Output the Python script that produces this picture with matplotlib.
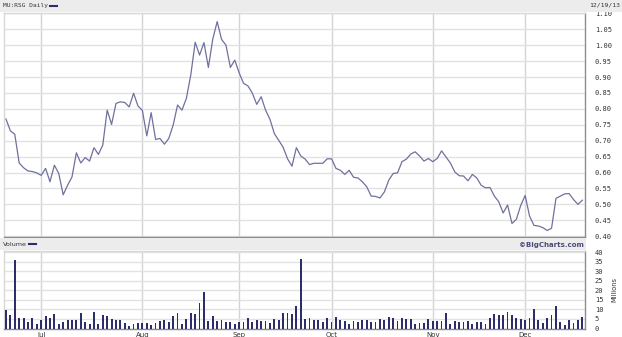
import numpy as np
import pandas as pd
import matplotlib
matplotlib.use("Agg")
import matplotlib.pyplot as plt
from matplotlib.patches import Rectangle

# trading days (all weekdays) 6/19/13 .. 12/19/13
dates = pd.bdate_range("2013-06-19", "2013-12-19")

price = [
    0.768, 0.731, 0.720, 0.630, 0.615, 0.605, 0.603, 0.599, 0.591, 0.613,
    0.571, 0.623, 0.597, 0.530, 0.560, 0.586, 0.662, 0.630, 0.647, 0.636,
    0.678, 0.657, 0.686, 0.796, 0.751, 0.817, 0.822, 0.820, 0.806, 0.849,
    0.809, 0.795, 0.715, 0.788, 0.704, 0.707, 0.689, 0.707, 0.749, 0.812,
    0.796, 0.833, 0.906, 1.009, 0.969, 1.008, 0.930, 1.019, 1.074, 1.018,
    1.000, 0.930, 0.953, 0.913, 0.880, 0.872, 0.849, 0.814, 0.838, 0.796,
    0.767, 0.722, 0.701, 0.679, 0.643, 0.620, 0.678, 0.652, 0.642, 0.625,
    0.629, 0.629, 0.629, 0.643, 0.643, 0.613, 0.607, 0.594, 0.607, 0.585,
    0.583, 0.571, 0.555, 0.526, 0.525, 0.520, 0.539, 0.576, 0.597, 0.599,
    0.634, 0.642, 0.658, 0.665, 0.652, 0.636, 0.644, 0.634, 0.644, 0.668,
    0.649, 0.630, 0.602, 0.590, 0.589, 0.574, 0.594, 0.583, 0.560, 0.552,
    0.553, 0.526, 0.508, 0.473, 0.498, 0.440, 0.453, 0.497, 0.528, 0.463,
    0.434, 0.432, 0.427, 0.418, 0.425, 0.519, 0.526, 0.533, 0.534, 0.515,
    0.500, 0.513,
]

volume = [  # millions
    9.5, 7.2, 36.0, 5.3, 5.3, 3.5, 5.3, 2.5, 4.2, 6.3,
    5.4, 7.4, 2.3, 3.2, 4.7, 4.6, 4.4, 8.1, 3.3, 2.5,
    8.4, 2.5, 7.0, 6.7, 4.9, 4.7, 4.2, 2.8, 1.4, 2.5,
    2.8, 2.8, 2.8, 1.9, 3.0, 4.0, 4.4, 3.5, 6.5, 8.2,
    2.6, 4.9, 7.9, 7.5, 13.5, 19.1, 3.9, 6.3, 3.7, 4.7,
    3.5, 3.5, 2.5, 3.3, 3.3, 5.4, 3.3, 4.7, 3.9, 3.9,
    3.0, 5.1, 4.2, 7.9, 7.9, 7.4, 11.9, 36.3, 4.8, 5.5,
    4.4, 4.6, 3.2, 5.3, 3.5, 6.0, 4.2, 4.1, 2.6, 3.9,
    3.3, 4.4, 4.4, 3.2, 3.2, 4.8, 4.2, 6.2, 5.5, 4.1,
    5.5, 4.8, 4.8, 2.6, 2.8, 3.0, 5.1, 4.1, 4.1, 4.1,
    7.9, 2.1, 4.1, 3.3, 3.5, 4.1, 2.1, 3.5, 3.5, 2.3,
    5.5, 7.6, 7.2, 7.2, 8.8, 7.0, 5.5, 4.8, 4.4, 5.5,
    10.2, 4.4, 3.0, 5.5, 7.2, 11.6, 3.2, 1.9, 4.4, 2.8,
    4.4, 6.0,
]

price_ticks = [0.40, 0.45, 0.50, 0.55, 0.60, 0.65, 0.70, 0.75,
               0.80, 0.85, 0.90, 0.95, 1.00, 1.05, 1.10]
vol_ticks = [0, 5, 10, 15, 20, 25, 30, 35, 40]

LINE = "#7070a0"
BAR = "#2d2d6b"
GRID = "#e2e2e2"
VGRID = "#d4d4d4"
BAND = "#ececec"
EDGE = "#8c8c8c"

W, H = 622, 337
fig = plt.figure(figsize=(W / 100, H / 100), dpi=100)
fig.patch.set_facecolor("white")


def fx(px):
    return px / W


def fy(py):
    return 1 - py / H


# gray bands (header and between panels)
fig.patches.append(Rectangle((0, fy(12)), 1, fy(0) - fy(12), transform=fig.transFigure,
                             facecolor=BAND, edgecolor="none", zorder=0))
fig.patches.append(Rectangle((0, fy(250)), fx(586), fy(238) - fy(250), transform=fig.transFigure,
                             facecolor=BAND, edgecolor="none", zorder=0))

x = np.arange(len(dates))
month_idx = [i for i in range(1, len(dates)) if dates[i].month != dates[i - 1].month]
month_lbl = [dates[i].strftime("%b") for i in month_idx]

ax1 = fig.add_axes([fx(4), fy(237), fx(585) - fx(4), fy(13) - fy(237)])
ax2 = fig.add_axes([fx(4), fy(328.5), fx(585) - fx(4), fy(251) - fy(328.5)])

for ax in (ax1, ax2):
    ax.set_xlim(-0.45, len(dates) - 0.4)
    for i in month_idx:
        ax.axvline(i, color=VGRID, lw=1.0, zorder=1)
    ax.tick_params(axis="both", length=0)
    ax.yaxis.tick_right()
    ax.spines["top"].set_color("#d8d8d8")
    ax.spines["left"].set_color("#d8d8d8")
    ax.spines["bottom"].set_color(EDGE)
    ax.spines["right"].set_color(EDGE)
    for s in ax.spines.values():
        s.set_linewidth(1.0)

# price panel
ax1.set_ylim(0.3975, 1.101)
for v in price_ticks:
    ax1.axhline(v, color=GRID, lw=1.0, zorder=1)
ax1.plot(x, price, color=LINE, lw=0.9, zorder=3)
ax1.set_yticks(price_ticks)
ax1.set_yticklabels(["%.2f" % v for v in price_ticks], family="DejaVu Sans Mono",
                    fontsize=5.0, color="#333333")
ax1.tick_params(axis="y", pad=7)
ax1.set_xticks([])

# volume panel
ax2.set_ylim(0, 40.6)
for v in vol_ticks:
    ax2.axhline(v, color=GRID, lw=1.0, zorder=1)
ax2.bar(x, volume, width=0.42, color=BAR, zorder=3)
ax2.set_yticks(vol_ticks)
ax2.set_yticklabels([str(v) for v in vol_ticks], family="DejaVu Sans Mono",
                    fontsize=5.0, color="#333333")
ax2.tick_params(axis="y", pad=7)
ax2.set_xticks(month_idx)
ax2.set_xticklabels(month_lbl, fontsize=5.0, color="#333333")
ax2.tick_params(axis="x", pad=2.5)

# header / labels
fig.text(fx(3), fy(6), "MU:RSG Daily", fontsize=4.4, family="DejaVu Sans Mono",
         color="#333333", va="center", ha="left")
fig.add_artist(plt.Line2D([fx(50), fx(57)], [fy(6), fy(6)], color=BAR, lw=1.5))
fig.text(fx(620), fy(5), "12/19/13", fontsize=4.6, family="DejaVu Sans Mono",
         color="#333333", va="center", ha="right")

fig.text(fx(3), fy(244), "Volume", fontsize=4.6, color="#333333", va="center", ha="left")
fig.add_artist(plt.Line2D([fx(29), fx(36)], [fy(244), fy(244)], color=BAR, lw=1.5))
fig.text(fx(584), fy(244.5), "\u00a9BigCharts.com", fontsize=5.0, fontweight="bold",
         color="#4a4a7a", va="center", ha="right")
fig.text(fx(614), fy(290), "Millions", fontsize=4.8, color="#333333", rotation=90,
         va="center", ha="center")

fig.savefig("out.png", dpi=100)
